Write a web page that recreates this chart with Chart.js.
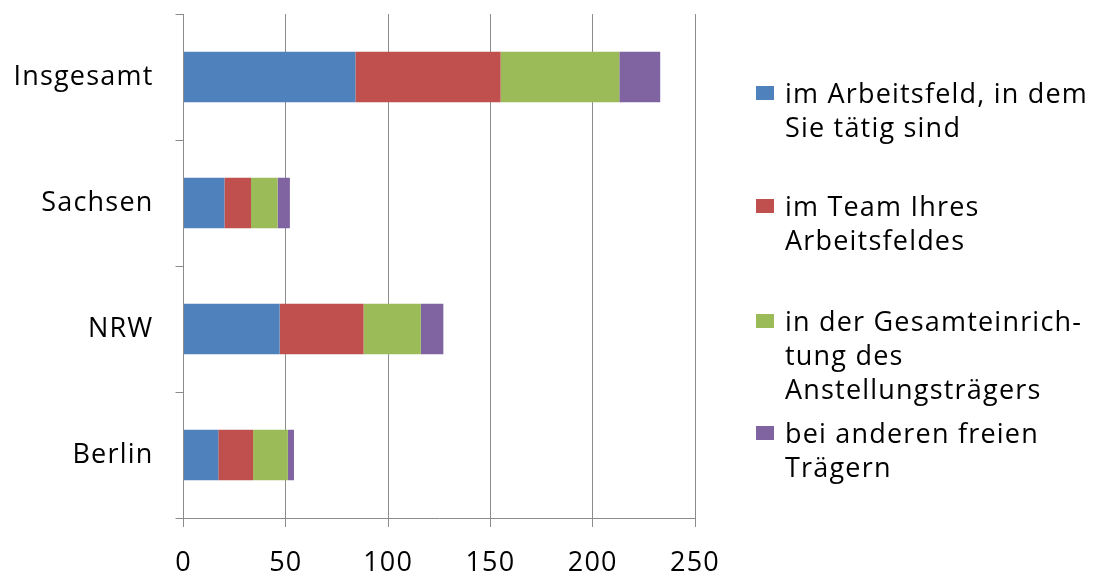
<!DOCTYPE html>
<html>
<head>
<meta charset="utf-8">
<script src="https://cdn.jsdelivr.net/npm/chart.js@4.4.0/dist/chart.umd.min.js"></script>
<style>
  html, body { margin: 0; padding: 0; background: #fff; }
  #wrap { position: relative; width: 1093px; height: 573px; }
  #legend { position: absolute; left: 0; top: 0; font-family: "Open Sans"; font-size: 27px; letter-spacing: 1.2px; color: #000; }
  .item { position: absolute; left: 756px; line-height: 34px; white-space: nowrap; }
  .box { position: absolute; left: 0; top: 10px; width: 18px; height: 14px; }
  .txt { position: absolute; left: 29px; top: 0; }
</style>
</head>
<body>
<div id="wrap">
  <canvas id="mycanvas" width="1093" height="573"></canvas>
  <div id="legend"></div>
</div>
<script>
// categories, top to bottom
var categories = ['Insgesamt', 'Sachsen', 'NRW', 'Berlin'];

// series values
var arbeitsfeld = [84, 20, 47, 17];
var team = [71, 13, 41, 17];
var gesamteinrichtung = [58, 13, 28, 17];
var andereTraeger = [20, 6, 11, 3];

var xTicks = [0, 50, 100, 150, 200, 250];

var seriesLabels = [
  ['im Arbeitsfeld, in dem', 'Sie tätig sind'],
  ['im Team Ihres', 'Arbeitsfeldes'],
  ['in der Gesamteinrich-', 'tung des', 'Anstellungsträgers'],
  ['bei anderen freien', 'Trägern']
];
var seriesColors = ['#4F81BD', '#C0504D', '#9BBB59', '#8064A2'];
var seriesValues = [arbeitsfeld, team, gesamteinrichtung, andereTraeger];
var legendTops = [76, 189, 304, 416];

var datasets = [];
for (var i = 0; i < seriesValues.length; i++) {
  datasets.push({
    label: seriesLabels[i].join(' '),
    data: seriesValues[i],
    backgroundColor: seriesColors[i],
    borderWidth: 0,
    barPercentage: 0.4,
    categoryPercentage: 1
  });
}

// wider letters, like the stretched original
var spacing = {
  id: 'spacing',
  beforeUpdate: function(c) { c.ctx.letterSpacing = '1.2px'; },
  beforeDraw: function(c) { c.ctx.letterSpacing = '1.2px'; }
};

var gridColor = '#8c8c8c';
var tickFont = { family: 'Open Sans', size: 27 };

var ctx = document.getElementById('mycanvas');
var chart = new Chart(ctx, {
  type: 'bar',
  data: { labels: categories, datasets: datasets },
  plugins: [spacing],
  options: {
    indexAxis: 'y',
    responsive: false,
    animation: false,
    layout: { padding: { top: 14, right: 398, left: 0, bottom: 0 } },
    plugins: { legend: { display: false }, tooltip: { enabled: false } },
    scales: {
      x: {
        stacked: true,
        min: 0,
        max: 250,
        afterBuildTicks: function(s) { s.ticks = xTicks.map(function(v) { return { value: v }; }); },
        ticks: { color: '#000', font: tickFont, padding: 20, maxRotation: 0 },
        grid: { color: gridColor, lineWidth: 1, tickLength: 9 },
        border: { color: gridColor },
        afterFit: function(s) { s.height = 55; s.paddingLeft = 0; s.paddingRight = 0; }
      },
      y: {
        stacked: true,
        ticks: { color: '#000', font: tickFont, padding: 22 },
        grid: { drawOnChartArea: false, tickLength: 8, color: gridColor, offset: true },
        border: { color: gridColor },
        afterFit: function(s) { s.width = 183.5; s.paddingTop = 0; s.paddingBottom = 0; }
      }
    }
  }
});

// legend with line breaks, built from the series
var legend = document.getElementById('legend');
for (var j = 0; j < seriesLabels.length; j++) {
  var item = document.createElement('div');
  item.className = 'item';
  item.style.top = legendTops[j] + 'px';
  var box = document.createElement('div');
  box.className = 'box';
  box.style.background = seriesColors[j];
  var txt = document.createElement('div');
  txt.className = 'txt';
  txt.innerHTML = seriesLabels[j].join('<br>');
  item.appendChild(box);
  item.appendChild(txt);
  legend.appendChild(item);
}
</script>
</body>
</html>
